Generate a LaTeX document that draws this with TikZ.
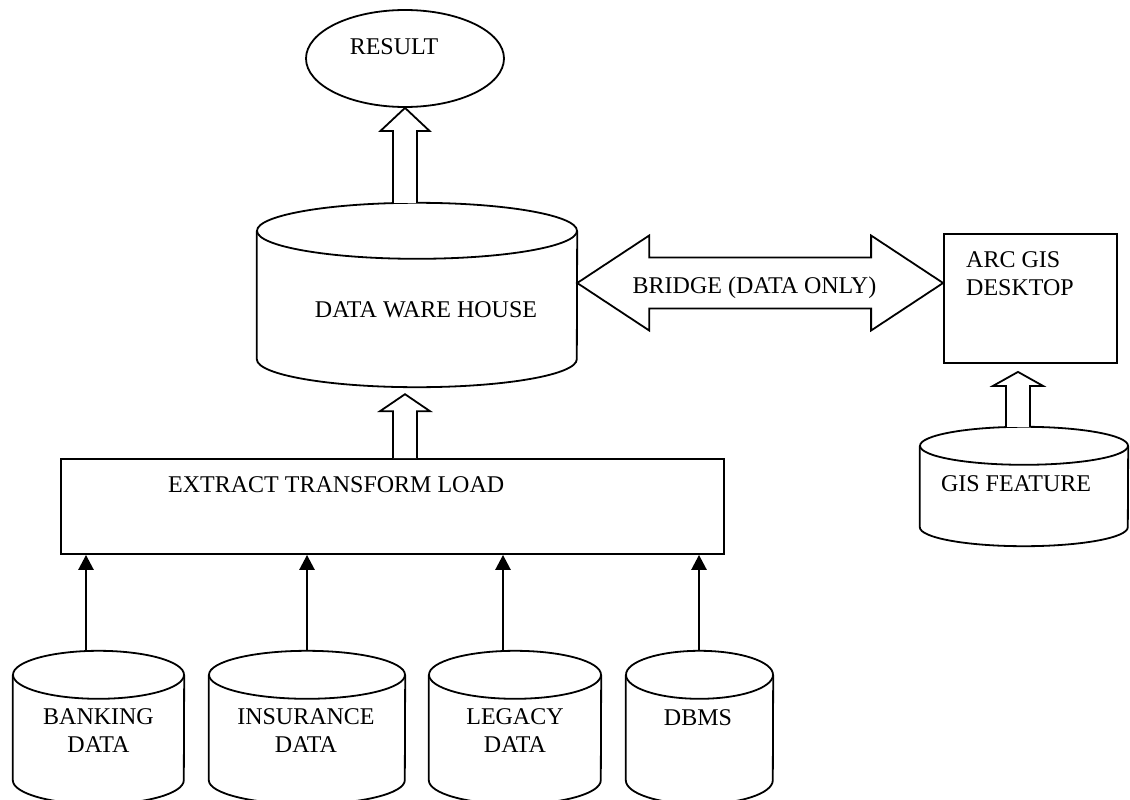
\documentclass[tikz,border=0pt]{standalone}
\usepackage{fontspec}
\setmainfont{Liberation Serif}
\usetikzlibrary{shapes.geometric,arrows.meta,calc}
\newcommand{\cylpath}[3]{%
  \draw[ln] ([yshift=-#3pt]#1.north) ellipse [x radius=#2pt, y radius=#3pt];
  \draw[ln] ([yshift=-#3pt]#1.north west) -- ([yshift=#3pt]#1.south west)
     arc[start angle=180, end angle=360, x radius=#2pt, y radius=#3pt]
     -- ([yshift=-#3pt]#1.north east);
}
\begin{document}
\begin{tikzpicture}[x=1pt,y=1pt,
  ln/.style={line width=1.8pt, line join=miter},
  frame/.style={inner sep=0pt, draw=none},
  txt/.style={inner sep=0pt, font=\fontsize{24}{28}\selectfont},
  boxnode/.style={draw, line width=1.8pt, inner sep=0pt},
  hollow/.style={line width=1.8pt, line join=miter, fill=white},
  arr/.style={line width=2.6pt, -{Triangle[length=15pt,width=15pt]}}]
\useasboundingbox (0,0) rectangle (1130,-800);

% RESULT
\node[ellipse, draw, line width=1.8pt, inner sep=0pt, minimum width=198pt, minimum height=97pt] (result) at (405,-58.5) {};
\node[txt, anchor=base] (resulttxt) at (394,-55) {RESULT};

% DATA WARE HOUSE
\node[frame, minimum width=320pt, minimum height=184pt] (dw) at (417,-295) {};
\cylpath{dw}{160}{28}
\node[txt, anchor=base] (dwtxt) at (426,-317) {DATA WARE HOUSE};

% ETL
\node[boxnode, minimum width=663pt, minimum height=95pt] (etl) at (392.5,-506.5) {};
\node[txt, anchor=base west] (etltxt) at (168,-492) {EXTRACT TRANSFORM LOAD};

% ARC GIS box
\node[boxnode, minimum width=173pt, minimum height=129pt] (arc) at (1030.5,-298.5) {};
\node[txt, anchor=west, align=left] (arctxt) at (966,-274) {ARC GIS\\DESKTOP};

% GIS FEATURE
\node[frame, minimum width=208pt, minimum height=119pt] (gis) at (1024,-486.5) {};
\cylpath{gis}{104}{19}
\node[txt, anchor=base] (gistxt) at (1016,-491) {GIS FEATURE};

% bottom cylinders
\node[frame, minimum width=171pt, minimum height=153pt] (bank) at (98.5,-727.5) {};
\cylpath{bank}{85.5}{24}
\node[txt, align=center] (banktxt) at (98.5,-731) {BANKING\\DATA};

\node[frame, minimum width=196pt, minimum height=153pt] (ins) at (307,-727.5) {};
\cylpath{ins}{98}{24}
\node[txt, align=center] (instxt) at (306,-731) {INSURANCE\\DATA};

\node[frame, minimum width=172pt, minimum height=153pt] (leg) at (515,-727.5) {};
\cylpath{leg}{86}{24}
\node[txt, align=center] (legtxt) at (515,-731) {LEGACY\\DATA};

\node[frame, minimum width=147pt, minimum height=153pt] (dbms) at (699.5,-727.5) {};
\cylpath{dbms}{73.5}{24}
\node[txt, anchor=base] (dbmstxt) at (698,-725) {DBMS};

% thin arrows into ETL
\coordinate (b1) at ($(bank.north)+(-12.5,0)$);
\coordinate (b2) at ($(ins.north)+(0,0)$);
\coordinate (b3) at ($(leg.north)+(-12,0)$);
\coordinate (b4) at ($(dbms.north)+(-0.5,0)$);
\draw[arr] (b1) -- (b1 |- etl.south);
\draw[arr] (b2) -- (b2 |- etl.south);
\draw[arr] (b3) -- (b3 |- etl.south);
\draw[arr] (b4) -- (b4 |- etl.south);

% hollow arrow DW -> RESULT
\coordinate (a1t) at (result.south);
\coordinate (a1b) at (result.south |- dw.north);
\draw[hollow] ($(a1b)+(-12,0)$) -- ($(a1t)+(-12,-23)$) -- ($(a1t)+(-24.5,-23)$) -- (a1t)
  -- ($(a1t)+(24.5,-23)$) -- ($(a1t)+(12,-23)$) -- ($(a1b)+(12,0)$);

% hollow arrow ETL -> DW
\coordinate (a2t) at ($(result.south |- dw.south)+(0,-7)$);
\coordinate (a2b) at (result.south |- etl.north);
\draw[hollow] ($(a2b)+(-12,0)$) -- ($(a2t)+(-12,-17)$) -- ($(a2t)+(-25,-17)$) -- (a2t)
  -- ($(a2t)+(25,-17)$) -- ($(a2t)+(12,-17)$) -- ($(a2b)+(12,0)$);

% hollow arrow GIS -> ARC
\coordinate (a3t) at ($(gis.north |- arc.south)+(-6,-8)$);
\coordinate (a3b) at ($(gis.north)+(-6,0)$);
\draw[hollow] ($(a3b)+(-12,0)$) -- ($(a3t)+(-12,-14)$) -- ($(a3t)+(-25,-14)$) -- (a3t)
  -- ($(a3t)+(25,-14)$) -- ($(a3t)+(12,-14)$) -- ($(a3b)+(12,0)$);

% bridge double arrow
\coordinate (bl) at (dw.east |- 0,-283);
\coordinate (br) at (arc.west |- 0,-283);
\draw[hollow] (bl) -- ($(bl)+(72,47.5)$) -- ($(bl)+(72,25.5)$) -- ($(br)+(-72,25.5)$)
  -- ($(br)+(-72,47.5)$) -- (br) -- ($(br)+(-72,-47.5)$) -- ($(br)+(-72,-25.5)$)
  -- ($(bl)+(72,-25.5)$) -- ($(bl)+(72,-47.5)$) -- cycle;
\node[txt, anchor=base] (bridgetxt) at (754.5,-293) {BRIDGE (DATA ONLY)};
\end{tikzpicture}
\end{document}
